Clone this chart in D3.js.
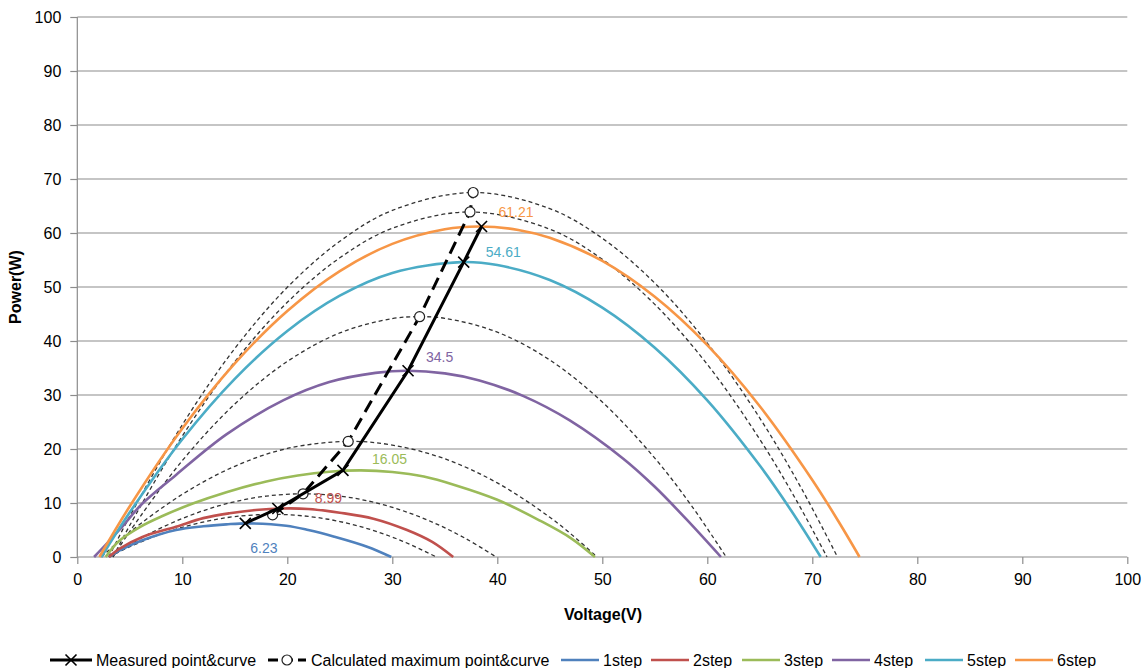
<!DOCTYPE html>
<html><head><meta charset="utf-8">
<script src="https://cdn.jsdelivr.net/npm/d3@7/dist/d3.min.js"></script>
<style>body{margin:0;background:#fff}svg{display:block}</style>
</head><body>
<svg id="chart" width="1145" height="668"></svg>
<script>
// ---- data ----
const xTicks = [0,10,20,30,40,50,60,70,80,90,100];
const yTicks = [0,10,20,30,40,50,60,70,80,90,100];

const step1V = [3.0,4.0,6.2,9.4,12,14.2,16.3,19.9,22,24.4,27.6,29.9];
const step1P = [0,1.2,3.1,5.0,5.7,6.05,6.23,5.8,5.0,3.8,1.9,0];
const step2V = [3.0,4.0,6.2,9.4,12,14.5,17,19.5,22,25,28.2,31.4,33.8,35.8];
const step2P = [0,1.5,3.7,5.6,7.2,8.1,8.7,8.99,8.9,8.2,7.1,5.0,2.8,0];
const step3V = [2.7,4.0,6,8,11,14.2,18,21,24,27,30,33,36,40,44,47,49.3];
const step3P = [0,3.0,5.6,7.5,9.9,12.0,14.0,15.1,15.8,16.05,15.75,14.9,13.3,10.6,6.8,3.5,0];
const step4V = [1.6,4,6.2,9.4,14.2,19.6,24,28.4,31.5,35,38.3,42.5,46.9,52,55,58,61.3];
const step4P = [0,5.0,9.9,15.2,22.7,29.0,32.4,34.1,34.5,34.0,32.7,29.8,25.3,18.2,13.0,7.0,0];
const step5V = [2.3,5,10,15,20,25,30,36.55,40,45,50,55,60,65,68,70.8];
const step5P = [0,8.27,21.8,33.0,41.86,48.4,52.61,54.61,54.06,51.29,46.19,38.76,29.01,16.93,8.56,0];
const step6V = [2.1,5,10,15,20,25,30,35,38.3,42,45,50,55,60,65,70,72.5,74.5];
const step6P = [0,9.41,23.8,35.85,45.56,52.95,57.99,60.7,61.21,60.57,59.11,54.82,48.18,39.22,27.91,14.27,6.57,0];

// calculated curves (thin dotted)
const calc1V = [3.0,5,7.5,10,12.5,15,18.6,22,25,28,31,34.2];
const calc1P = [0,1.9,3.9,5.5,6.69,7.48,7.9,7.52,6.57,5.03,2.91,0];
const calc2V = [3.1,5,7.5,10,12.5,15,18,21.5,25,28,31,34,37,39.9];
const calc2P = [0,2.29,4.93,7.13,8.9,10.24,11.28,11.7,11.28,10.24,8.58,6.3,3.4,0];
const calc3V = [2.3,5,10,15,20,25.8,30,35,40,45,47.5,49.5];
const calc3P = [0,4.6,11.6,16.8,20.1,21.4,20.73,18.18,13.72,7.36,3.46,0];
const calc4V = [3.4,5,10,15,20,25,30,32.6,35,40,45,50,55,58.5,61.8];
const calc4P = [0,4.74,17.84,28.33,36.21,41.49,44.15,44.5,44.2,41.64,36.48,28.7,18.31,9.49,0];
const calc5V = [3.4,5,10,15,20,25,30,37.4,45,50,55,60,65,68.5,71.4];
const calc5P = [0,5.87,22.4,36.17,47.16,55.4,60.87,63.9,60.71,55.13,46.78,35.67,21.79,10.43,0];
const calc6V = [3.0,5,10,15,20,25,30,37.7,45,50,55,60,65,69,72.4];
const calc6P = [0,7.56,24.49,38.61,49.94,58.46,64.18,67.5,64.51,59.02,50.72,39.62,25.72,12.58,0];

// measured points & calculated maximum points
const measV = [16.0,19.1,25.3,31.5,36.8,38.5];
const measP = [6.23,8.99,16.05,34.5,54.61,61.21];
const calcMaxV = [18.6,21.5,25.8,32.6,37.4,37.7];
const calcMaxP = [7.8,11.7,21.4,44.5,63.9,67.5];

const stepNames = ["1step","2step","3step","4step","5step","6step"];
const peakLabels = ["6.23","8.99","16.05","34.5","54.61","61.21"];
const legendNames = ["Measured point&curve","Calculated maximum point&curve"].concat(stepNames);

// ---- drawing ----
const colors = ["#4F81BD","#C0504D","#9BBB59","#8064A2","#4BACC6","#F79646"];
const svg = d3.select("#chart");
const FONT = "'Liberation Sans', Arial, sans-serif";
const x = d3.scaleLinear().domain([0,100]).range([77.3,1127.3]);
const y = d3.scaleLinear().domain([0,100]).range([557,17]);

// gridlines
svg.append("g").selectAll("line").data(yTicks.filter(d=>d>0)).join("line")
  .attr("x1",x(0)).attr("x2",x(100)).attr("y1",d=>y(d)).attr("y2",d=>y(d))
  .attr("stroke","#8c8c8c").attr("stroke-width",1.2);

// axes
const yAxis = svg.append("g").attr("transform",`translate(${x(0)},0)`)
  .call(d3.axisLeft(y).tickValues(yTicks).tickSize(7).tickPadding(9));
const xAxis = svg.append("g").attr("transform",`translate(0,${y(0)})`)
  .call(d3.axisBottom(x).tickValues(xTicks).tickSize(7).tickPadding(10));
[xAxis,yAxis].forEach(a=>{
  a.selectAll("path,line").attr("stroke","#8c8c8c").attr("stroke-width",1.2);
  a.selectAll("text").attr("font-family",FONT).attr("font-size",16).attr("fill","#000");
});
yAxis.select(".domain").attr("d",`M0,${y(100)}V${y(0)}`);
xAxis.select(".domain").attr("d",`M${x(0)},0H${x(100)}`);

// titles
svg.append("text").attr("x",603).attr("y",620).attr("text-anchor","middle")
  .attr("font-family",FONT).attr("font-weight","bold").attr("font-size",16).text("Voltage(V)");
svg.append("text").attr("transform","translate(21,287) rotate(-90)").attr("text-anchor","middle")
  .attr("font-family",FONT).attr("font-weight","bold").attr("font-size",16).text("Power(W)");

const line = d3.line().x(d=>x(d[0])).y(d=>y(d[1])).curve(d3.curveCatmullRom.alpha(0.5));
const zip = (a,b)=>a.map((v,i)=>[v,b[i]]);

// calculated dotted curves
const calcSets = [[calc1V,calc1P],[calc2V,calc2P],[calc3V,calc3P],[calc4V,calc4P],[calc5V,calc5P],[calc6V,calc6P]];
calcSets.forEach(s=>{
  svg.append("path").attr("d",line(zip(s[0],s[1]))).attr("fill","none")
    .attr("stroke","#333").attr("stroke-width",1.3).attr("stroke-dasharray","4,3");
});

// step curves
const stepSets = [[step1V,step1P],[step2V,step2P],[step3V,step3P],[step4V,step4P],[step5V,step5P],[step6V,step6P]];
stepSets.forEach((s,i)=>{
  svg.append("path").attr("d",line(zip(s[0],s[1]))).attr("fill","none")
    .attr("stroke",colors[i]).attr("stroke-width",2.6);
});

// calculated maximum line + circles
const straight = d3.line().x(d=>x(d[0])).y(d=>y(d[1]));
svg.append("path").attr("d",straight(zip(calcMaxV,calcMaxP))).attr("fill","none")
  .attr("stroke","#000").attr("stroke-width",3).attr("stroke-dasharray","13,7");
svg.append("g").selectAll("circle").data(zip(calcMaxV,calcMaxP)).join("circle")
  .attr("cx",d=>x(d[0])).attr("cy",d=>y(d[1])).attr("r",5)
  .attr("fill","#fff").attr("stroke","#222").attr("stroke-width",1.2);

// measured line + X markers
svg.append("path").attr("d",straight(zip(measV,measP))).attr("fill","none")
  .attr("stroke","#000").attr("stroke-width",3);
const xMark = (g,cx,cy,s)=>{
  g.append("path").attr("d",`M${cx-s},${cy-s}L${cx+s},${cy+s}M${cx-s},${cy+s}L${cx+s},${cy-s}`)
   .attr("stroke","#000").attr("stroke-width",1.6);
};
const mg = svg.append("g");
zip(measV,measP).forEach(d=>xMark(mg,x(d[0]),y(d[1]),5.5));

// peak labels
const labelOff = [[5,30],[37,-5],[29,-6],[18,-9],[22,-5],[17,-9]];
peakLabels.forEach((t,i)=>{
  svg.append("text").attr("x",x(measV[i])+labelOff[i][0]).attr("y",y(measP[i])+labelOff[i][1])
    .attr("font-family",FONT).attr("font-size",14).attr("fill",colors[i]).text(t);
});

// legend
const lg = svg.append("g").attr("font-family",FONT).attr("font-size",16);
const ly = 660;
lg.append("line").attr("x1",50).attr("x2",92).attr("y1",ly).attr("y2",ly).attr("stroke","#000").attr("stroke-width",3);
xMark(lg,71,ly,5.5);
lg.append("text").attr("x",96).attr("y",ly+6).text(legendNames[0]);
lg.append("line").attr("x1",268).attr("x2",306).attr("y1",ly).attr("y2",ly).attr("stroke","#000").attr("stroke-width",3).attr("stroke-dasharray","10,5");
lg.append("circle").attr("cx",287).attr("cy",ly).attr("r",5).attr("fill","#fff").attr("stroke","#222").attr("stroke-width",1.2);
lg.append("text").attr("x",311).attr("y",ly+6).text(legendNames[1]);
const stepLegX = [561,651,742,832,925,1015];
stepNames.forEach((n,i)=>{
  lg.append("line").attr("x1",stepLegX[i]).attr("x2",stepLegX[i]+38).attr("y1",ly).attr("y2",ly)
    .attr("stroke",colors[i]).attr("stroke-width",2.6);
  lg.append("text").attr("x",stepLegX[i]+42).attr("y",ly+6).text(legendNames[2+i]);
});
</script>
</body></html>
